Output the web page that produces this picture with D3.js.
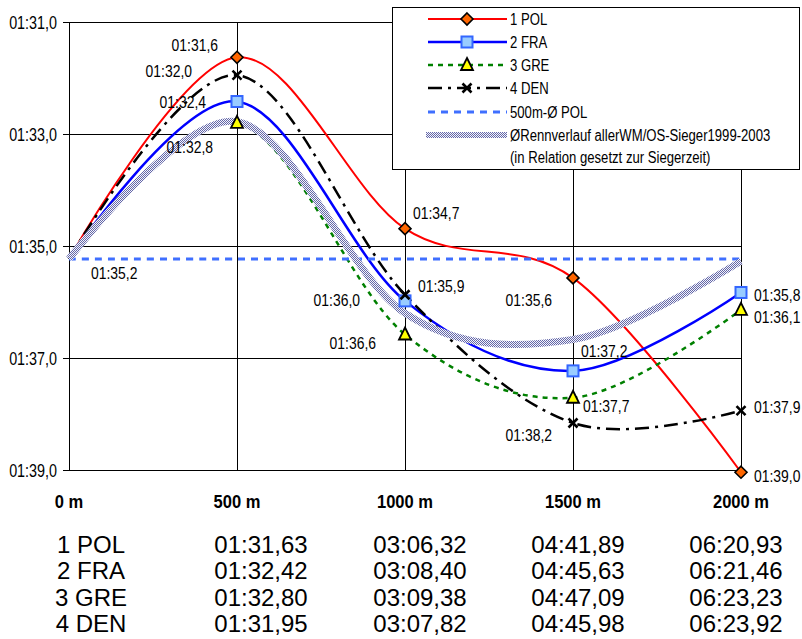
<!DOCTYPE html>
<html><head><meta charset="utf-8">
<script src="https://cdn.jsdelivr.net/npm/d3@7"></script>
<style>html,body{margin:0;padding:0;background:#fff;}svg{display:block;}</style>
</head><body>
<svg id="chart" width="802" height="639"></svg>
<script>
// ---------------- DATA ----------------
const categories = ["0 m", "500 m", "1000 m", "1500 m", "2000 m"];
const polSplits = [95.23, 91.63, 94.69, 95.57, 99.04];
const fraSplits = [95.23, 92.42, 95.98, 97.23, 95.83];
const greSplits = [95.23, 92.80, 96.58, 97.71, 96.14];
const denSplits = [95.23, 91.95, 95.87, 98.16, 97.94];
const polAvg500 = [95.23, 95.23, 95.23, 95.23, 95.23];
const winnersAvg = [95.23, 92.78, 96.20, 96.67, 95.27];

const polLabels = [null, "01:31,6", "01:34,7", "01:35,6", "01:39,0"];
const fraLabels = [null, "01:32,4", "01:36,0", "01:37,2", "01:35,8"];
const greLabels = [null, "01:32,8", "01:36,6", "01:37,7", "01:36,1"];
const denLabels = [null, "01:32,0", "01:35,9", "01:38,2", "01:37,9"];
const avgLabel = "01:35,2";

const yTicks = [91, 93, 95, 97, 99];
const yTickLabels = ["01:31,0", "01:33,0", "01:35,0", "01:37,0", "01:39,0"];

const legendNames = ["1 POL", "2 FRA", "3 GRE", "4 DEN", "500m-Ø POL", "ØRennverlauf allerWM/OS-Sieger1999-2003", "(in Relation gesetzt zur Siegerzeit)"];

const tableTeams = ["1 POL", "2 FRA", "3 GRE", "4 DEN"];
const polTimes = ["01:31,63", "03:06,32", "04:41,89", "06:20,93"];
const fraTimes = ["01:32,42", "03:08,40", "04:45,63", "06:21,46"];
const greTimes = ["01:32,80", "03:09,38", "04:47,09", "06:23,23"];
const denTimes = ["01:31,95", "03:07,82", "04:45,98", "06:23,92"];

// ---------------- LAYOUT / STYLE ----------------
const FONT = "'Liberation Sans', Arial, sans-serif";
const NARROW = 0.82;
const svg = d3.select("#chart");
const x = d3.scalePoint().domain(categories).range([69, 741]);
const y = d3.scaleLinear().domain([91, 99]).range([22, 470]);

// hatched pattern for the average band
const defs = svg.append("defs");
const pat = defs.append("pattern").attr("id", "hatch").attr("patternUnits", "userSpaceOnUse")
  .attr("width", 2).attr("height", 2);
pat.append("rect").attr("width", 2).attr("height", 2).attr("fill", "#f4f4fb");
pat.append("rect").attr("width", 1).attr("height", 1).attr("fill", "#6468a8");
pat.append("rect").attr("x", 1).attr("y", 1).attr("width", 1).attr("height", 1).attr("fill", "#6468a8");

function ntext(sel, px, py, str, size, anchor, weight, sx) {
  const g = sel.append("g").attr("transform", `translate(${px},${py}) scale(${sx},1)`);
  g.append("text").attr("text-anchor", anchor).attr("font-family", FONT)
    .attr("font-size", size).attr("font-weight", weight || "normal").attr("fill", "#000").text(str);
  return g;
}

// grid
const grid = svg.append("g").attr("shape-rendering", "crispEdges");
grid.selectAll("line.h").data(yTicks).join("line").attr("class", "h")
  .attr("x1", x(categories[0])).attr("x2", x(categories[4]))
  .attr("y1", d => y(d)).attr("y2", d => y(d)).attr("stroke", "#000").attr("stroke-width", 1);
grid.selectAll("line.v").data(categories).join("line").attr("class", "v")
  .attr("x1", d => x(d)).attr("x2", d => x(d))
  .attr("y1", y(91)).attr("y2", y(99)).attr("stroke", "#000").attr("stroke-width", 1);

// y axis
const yAxis = svg.append("g").attr("transform", `translate(${x(categories[0])},0)`)
  .call(d3.axisLeft(y).tickValues(yTicks).tickFormat((d, i) => yTickLabels[i]).tickSize(6).tickSizeOuter(0));
yAxis.select(".domain").attr("stroke", "#000").attr("shape-rendering", "crispEdges");
yAxis.selectAll(".tick line").attr("stroke", "#000").attr("shape-rendering", "crispEdges");
yAxis.selectAll(".tick text").attr("font-family", FONT).attr("font-size", 17.5).attr("fill", "#000")
  .attr("x", -12 / NARROW).attr("dy", "0.35em").attr("transform", `scale(${NARROW},1)`);

// x category labels
categories.forEach(c => ntext(svg, x(c), 508, c, 19, "middle", "bold", 0.87));

// legend box
const legend = svg.append("g");
legend.append("rect").attr("x", 392.5).attr("y", 7.5).attr("width", 407).attr("height", 162)
  .attr("fill", "#fff").attr("stroke", "#000").attr("stroke-width", 1);

// series definitions
const series = [
  { vals: polSplits, labels: polLabels, color: "#ff0000", width: 2, dash: null, marker: "diamond" },
  { vals: fraSplits, labels: fraLabels, color: "#0000ff", width: 2.5, dash: null, marker: "square" },
  { vals: greSplits, labels: greLabels, color: "#008000", width: 2.5, dash: "5,5", marker: "triangle" },
  { vals: denSplits, labels: denLabels, color: "#000000", width: 2.5, dash: "14,6,3,6", marker: "x" },
];
const labelOffsets = [
  [null, [-19, -6, "end"], [8, -10, "start"], [-21, 28, "end"], [13, 10, "start"]],
  [null, [-31, 6, "end"], [-45, 5, "end"], [8, -14, "start"], [13, 9, "start"]],
  [null, [-24, 30, "end"], [-29, 15, "end"], [10, 14, "start"], [13, 13, "start"]],
  [null, [-45, 2, "end"], [13, -3, "start"], [-21, 18, "end"], [13, 2, "start"]],
];

const line = d3.line().x((d, i) => x(categories[i])).y(d => y(d)).curve(d3.curveCardinal.tension(0));
const plot = svg.append("g");

series.forEach(s => {
  plot.append("path").attr("d", line(s.vals)).attr("fill", "none").attr("stroke", s.color)
    .attr("stroke-width", s.width).attr("stroke-dasharray", s.dash);
});
// 500m average line
plot.append("path").attr("d", line(polAvg500)).attr("fill", "none").attr("stroke", "#3f6fff")
  .attr("stroke-width", 3).attr("stroke-dasharray", "7,6");
// average winners band
plot.append("path").attr("d", line(winnersAvg)).attr("fill", "none").attr("stroke", "url(#hatch)")
  .attr("stroke-width", 7);

function drawMarker(g, type, cx, cy) {
  if (type === "diamond") {
    g.append("path").attr("d", `M${cx},${cy - 6}L${cx + 6},${cy}L${cx},${cy + 6}L${cx - 6},${cy}Z`)
      .attr("fill", "#ff6600").attr("stroke", "#000").attr("stroke-width", 1.6);
  } else if (type === "square") {
    g.append("rect").attr("x", cx - 5.5).attr("y", cy - 5.5).attr("width", 11).attr("height", 11)
      .attr("fill", "#99ccff").attr("stroke", "#3366ff").attr("stroke-width", 2);
  } else if (type === "triangle") {
    g.append("path").attr("d", `M${cx},${cy - 7}L${cx + 6},${cy + 5}L${cx - 6},${cy + 5}Z`)
      .attr("fill", "#ffff00").attr("stroke", "#000").attr("stroke-width", 1.8).attr("stroke-linejoin", "miter");
  } else if (type === "x") {
    g.append("path").attr("d", `M${cx - 4.5},${cy - 4.5}L${cx + 4.5},${cy + 4.5}M${cx - 4.5},${cy + 4.5}L${cx + 4.5},${cy - 4.5}`)
      .attr("stroke", "#000").attr("stroke-width", 2.6);
  }
}

const marks = svg.append("g");
series.forEach(s => {
  s.vals.forEach((v, i) => { if (i > 0) drawMarker(marks, s.marker, x(categories[i]), y(v)); });
});

// data labels
const labs = svg.append("g");
series.forEach((s, si) => {
  s.vals.forEach((v, i) => {
    const o = labelOffsets[si][i];
    if (!o) return;
    ntext(labs, x(categories[i]) + o[0], y(v) + o[1], s.labels[i], 17, o[2], "normal", NARROW);
  });
});
ntext(labs, 91, 279, avgLabel, 17, "start", "normal", NARROW);

// legend entries
const lx1 = 428, lx2 = 507, lmx = 467, ltx = 510;
const rows = [19, 42, 65, 88, 112, 135, 157];
series.forEach((s, i) => {
  legend.append("line").attr("x1", lx1).attr("x2", lx2).attr("y1", rows[i]).attr("y2", rows[i])
    .attr("stroke", s.color).attr("stroke-width", s.width).attr("stroke-dasharray", s.dash);
  drawMarker(legend, s.marker, lmx, rows[i]);
});
legend.append("line").attr("x1", lx1).attr("x2", lx2).attr("y1", rows[4]).attr("y2", rows[4])
  .attr("stroke", "#3f6fff").attr("stroke-width", 3).attr("stroke-dasharray", "7,6");
legend.append("rect").attr("x", 426).attr("y", rows[5] - 3).attr("width", 81).attr("height", 6).attr("fill", "url(#hatch)");
legendNames.forEach((n, i) => ntext(legend, ltx, rows[i] + 6, n, 16, "start", "normal", NARROW));

// results table
const tableCols = [91, 261, 420, 578, 736];
const tableRows = [553, 579, 606, 632];
const allTimes = [polTimes, fraTimes, greTimes, denTimes];
const tbl = svg.append("g").attr("font-family", FONT).attr("font-size", 24).attr("fill", "#000");
tableTeams.forEach((t, r) => {
  tbl.append("text").attr("x", tableCols[0]).attr("y", tableRows[r]).attr("text-anchor", "middle").text(t);
  allTimes[r].forEach((tm, c) => {
    tbl.append("text").attr("x", tableCols[c + 1]).attr("y", tableRows[r]).attr("text-anchor", "middle").text(tm);
  });
});
</script>
</body></html>
